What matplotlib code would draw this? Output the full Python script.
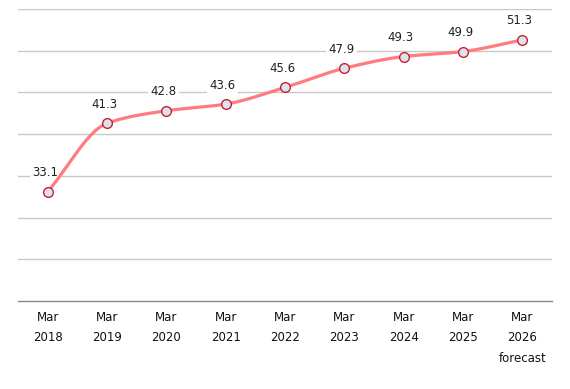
import numpy as np
import matplotlib
matplotlib.use("Agg")
import matplotlib.pyplot as plt

categories = ["Mar\n2018", "Mar\n2019", "Mar\n2020", "Mar\n2021", "Mar\n2022",
              "Mar\n2023", "Mar\n2024", "Mar\n2025", "Mar\n2026\nforecast"]
values = [33.1, 41.3, 42.8, 43.6, 45.6, 47.9, 49.3, 49.9, 51.3]


def monotone_curve(x, y, n=30):
    x = np.asarray(x, float); y = np.asarray(y, float)
    h = np.diff(x); d = np.diff(y) / h
    m = np.zeros_like(y)
    m[0] = d[0]; m[-1] = d[-1]
    for i in range(1, len(y) - 1):
        if d[i - 1] * d[i] <= 0:
            m[i] = 0
        else:
            w1 = 2 * h[i] + h[i - 1]; w2 = h[i] + 2 * h[i - 1]
            m[i] = (w1 + w2) / (w1 / d[i - 1] + w2 / d[i])
    xs, ys = [], []
    for i in range(len(x) - 1):
        t = np.linspace(0, 1, n)
        h00 = 2*t**3 - 3*t**2 + 1; h10 = t**3 - 2*t**2 + t
        h01 = -2*t**3 + 3*t**2; h11 = t**3 - t**2
        xs.append(x[i] + t * h[i])
        ys.append(h00*y[i] + h10*h[i]*m[i] + h01*y[i+1] + h11*h[i]*m[i+1])
    return np.concatenate(xs), np.concatenate(ys)


fig = plt.figure(figsize=(5.7, 3.89), dpi=100)
ax = fig.add_axes([18/570, 1 - 301/389, 534/570, 292/389])
xi = np.arange(len(values))
cx, cy = monotone_curve(xi, values)
ax.plot(cx, cy, color="#ff7b7f", lw=2.3, zorder=3, solid_capstyle="round")
ax.plot(xi, values, ls="none", marker="o", ms=7, mfc="#dde3ee", mec="#c8202c",
        mew=1.0, zorder=4)
for x, v in zip(xi, values):
    ax.annotate(f"{v:.1f}", (x, v), xytext=(-2, 9), textcoords="offset points",
                ha="center", va="bottom", fontsize=8.5, color="#222222",
                bbox=dict(boxstyle="square,pad=0.2", fc="white", ec="none"), zorder=2.5)

ax.set_xlim(-0.5, len(values) - 0.5)
ax.set_ylim(20, 55)
ax.set_yticks(np.arange(25, 56, 5))
ax.yaxis.grid(True, color="#c8c8c8", lw=1)
ax.set_axisbelow(True)
ax.tick_params(axis="y", left=False, labelleft=False)
ax.set_xticks(xi)
ax.set_xticklabels(categories, fontsize=8.5, linespacing=1.75, color="#111111")
ax.tick_params(axis="x", length=0, pad=7)
for s in ["top", "left", "right"]:
    ax.spines[s].set_visible(False)
ax.spines["bottom"].set_color("#888888")
ax.spines["bottom"].set_linewidth(1)
fig.savefig("out.png", dpi=100)
